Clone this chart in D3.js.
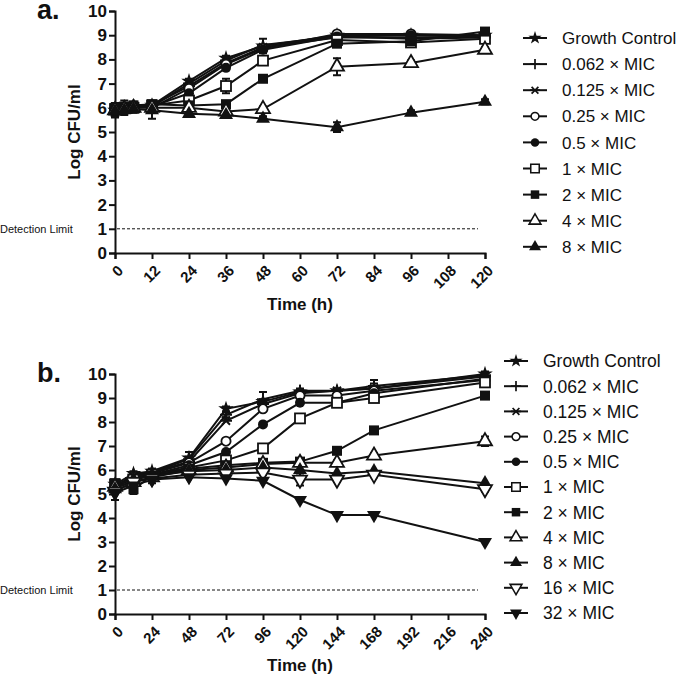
<!DOCTYPE html>
<html><head><meta charset="utf-8">
<script src="https://cdn.jsdelivr.net/npm/d3@7/dist/d3.min.js"></script>
<style>body{margin:0;background:#fff}svg{display:block}text{font-family:"Liberation Sans",Arial,sans-serif;fill:#111}</style>
</head><body>
<svg id="c" width="680" height="682"></svg>
<script>
// ---------- data ----------
const labelsA = ["Growth Control","0.062 × MIC","0.125 × MIC","0.25 × MIC","0.5 × MIC","1 × MIC","2 × MIC","4 × MIC","8 × MIC"];
const labelsB = labelsA.concat(["16 × MIC","32 × MIC"]);
const markersA = ["star","plus","xstar","circleOpen","circle","squareOpen","square","triOpen","tri"];
const markersB = markersA.concat(["triDownOpen","triDown"]);

const timesA = [0,3,6,12,24,36,48,72,96,120];
const xTicksA = [0,12,24,36,48,60,72,84,96,108,120];
const a_gc    = [5.9,6.0,6.05,6.1,7.1,8.05,8.55,9.0,9.0,9.0];
const a_0062  = [5.85,6.0,6.1,6.05,7.0,7.95,8.6,8.95,8.85,8.9];
const a_0125  = [5.95,6.05,6.0,6.1,6.9,7.85,8.5,8.9,8.9,8.95];
const a_025   = [5.9,6.0,6.05,6.0,6.8,7.8,8.45,9.05,9.05,9.0];
const a_05    = [5.9,5.95,6.0,6.05,6.6,7.65,8.4,8.95,9.0,8.95];
const a_1     = [5.95,6.0,6.0,6.1,6.3,6.9,7.95,8.8,8.7,8.85];
const a_2     = [6.0,6.05,6.1,6.15,6.1,6.15,7.2,8.65,8.75,9.15];
const a_4     = [5.9,5.95,6.0,6.0,6.0,5.85,5.95,7.7,7.85,8.4];
const a_8     = [5.85,5.9,5.95,5.9,5.75,5.7,5.55,5.2,5.8,6.25];
const errA_gc = [0.3,0.2,0.2,0.1,0.1,0.1,0.3,0.1,0.1,0.1];
const errA_1  = [0.2,0.3,0.2,0.1,0.1,0.3,0.1,0.1,0.1,0.1];
const errA_4  = [0.2,0.1,0.1,0.1,0.1,0.1,0.1,0.35,0.1,0.1];
const errA_8  = [0.2,0.1,0.1,0.35,0.1,0.1,0.1,0.2,0.1,0.1];

const timesB = [0,12,24,48,72,96,120,144,168,240];
const xTicksB = [0,24,48,72,96,120,144,168,192,216,240];
const b_gc    = [5.4,5.85,5.95,6.5,8.55,8.85,9.25,9.3,9.4,10.0];
const b_0062  = [5.3,5.8,5.9,6.45,8.3,8.95,9.3,9.3,9.5,9.95];
const b_0125  = [5.25,5.75,5.9,6.35,8.05,8.75,9.2,9.3,9.4,9.9];
const b_025   = [5.35,5.7,5.85,6.3,7.2,8.55,9.1,9.1,9.3,9.75];
const b_05    = [5.3,5.65,5.8,6.2,6.75,7.9,8.8,8.8,9.2,9.8];
const b_1     = [5.4,5.6,5.8,6.1,6.4,6.9,8.15,8.8,9.0,9.65];
const b_2     = [5.45,5.2,5.75,6.05,6.2,6.3,6.35,6.8,7.65,9.1];
const b_4     = [5.3,5.5,5.7,6.0,6.1,6.25,6.3,6.3,6.6,7.2];
const b_8     = [5.2,5.6,5.75,5.95,6.0,6.1,6.0,5.85,5.95,5.45];
const b_16    = [5.1,5.5,5.65,5.8,5.85,5.9,5.6,5.6,5.8,5.2];
const b_32    = [5.05,5.35,5.6,5.7,5.65,5.55,4.75,4.12,4.12,3.0];
const errB_gc = [0.1,0.1,0.1,0.25,0.1,0.1,0.1,0.1,0.35,0.1];
const errB_0062 = [0.1,0.1,0.1,0.1,0.1,0.3,0.1,0.1,0.1,0.1];
const errB_2  = [0.1,0.2,0.3,0.1,0.1,0.1,0.1,0.1,0.1,0.1];
const errB_4  = [0.1,0.1,0.1,0.1,0.1,0.1,0.1,0.1,0.1,0.2];
const errB_16 = [0.35,0.1,0.1,0.1,0.1,0.1,0.25,0.1,0.1,0.1];
const yTicks = [0,1,2,3,4,5,6,7,8,9,10];
const detectionLimit = 1;

const seriesA = [a_gc,a_0062,a_0125,a_025,a_05,a_1,a_2,a_4,a_8];
const errsA = [errA_gc,null,null,null,null,errA_1,null,errA_4,errA_8];
const seriesB = [b_gc,b_0062,b_0125,b_025,b_05,b_1,b_2,b_4,b_8,b_16,b_32];
const errsB = [errB_gc,errB_0062,null,null,null,null,errB_2,errB_4,null,errB_16,null];

// ---------- drawing ----------
const svg = d3.select("#c");
const tri = d3.symbol().type(d3.symbolTriangle).size(85)();
const star = d3.symbol().type(d3.symbolStar).size(75)();
function drawMarker(g, type){
  const open = /Open/.test(type);
  const fill = open ? "#fff" : "#111";
  if(type==="star") g.append("path").attr("d",star).attr("fill","#111");
  else if(type==="plus") g.append("path").attr("d","M-6,0H6M0,-6V6").attr("stroke","#111").attr("stroke-width",2).attr("fill","none");
  else if(type==="xstar") g.append("path").attr("d","M-6,0H6M-4,-4L4,4M-4,4L4,-4").attr("stroke","#111").attr("stroke-width",2).attr("fill","none");
  else if(type.startsWith("circle")) g.append("circle").attr("r",open?4.6:5).attr("fill",fill).attr("stroke","#111").attr("stroke-width",open?1.8:0);
  else if(type.startsWith("square")) g.append("rect").attr("x",-5).attr("y",-5).attr("width",10).attr("height",10).attr("fill",fill).attr("stroke","#111").attr("stroke-width",open?1.8:0);
  else if(type.startsWith("triDown")) g.append("path").attr("d",tri).attr("transform","rotate(180)").attr("fill",fill).attr("stroke","#111").attr("stroke-width",open?1.8:0);
  else if(type.startsWith("tri")) g.append("path").attr("d",tri).attr("fill",fill).attr("stroke","#111").attr("stroke-width",open?1.8:0);
}

function panel(o){
  const x = d3.scaleLinear().domain(o.xDomain).range([115,485]);
  const y = d3.scaleLinear().domain([0,10]).range([o.y0,o.y10]);
  const g = svg.append("g");
  // axes
  const ya = g.append("g").attr("transform","translate(115,0)")
    .call(d3.axisLeft(y).tickValues(yTicks).tickSize(6).tickPadding(2).tickFormat(d3.format("d")));
  ya.selectAll("text").style("font-size","17px").style("font-weight","bold");
  const xa = g.append("g").attr("transform",`translate(0,${o.y0})`)
    .call(d3.axisBottom(x).tickValues(o.xTicks).tickSize(6).tickFormat(d3.format("d")));
  xa.selectAll("text").style("font-size","15px").style("font-weight","bold")
    .attr("text-anchor","end").attr("dy","0.35em").attr("dx","0")
    .attr("transform","translate(5,15) rotate(-45)").attr("y",0);
  g.selectAll(".domain").attr("stroke","#111").attr("stroke-width",2);
  g.selectAll(".tick line").attr("stroke","#111").attr("stroke-width",2);
  // detection limit
  g.append("line").attr("x1",x(o.xDomain[0])+2).attr("x2",x(o.xDomain[1])-7)
    .attr("y1",y(detectionLimit)).attr("y2",y(detectionLimit))
    .attr("stroke","#111").attr("stroke-width",1).attr("stroke-dasharray","3,2");
  g.append("text").attr("x",0).attr("y",y(detectionLimit)).attr("dy","0.35em")
    .style("font-size","11px").text("Detection Limit");
  // titles
  g.append("text").attr("x",37).attr("y",o.y10+8).style("font-size","27px").style("font-weight","bold").text(o.letter);
  g.append("text").attr("transform",`translate(80,${(o.y0+o.y10)/2}) rotate(-90)`).attr("text-anchor","middle")
    .style("font-size","17px").style("font-weight","bold").text("Log CFU/ml");
  g.append("text").attr("x",300).attr("y",o.y0+57).attr("text-anchor","middle")
    .style("font-size","17px").style("font-weight","bold").text("Time (h)");
  // lines
  const line = d3.line().x((d,i)=>x(o.times[i])).y(d=>y(d));
  o.series.forEach(s=>g.append("path").attr("d",line(s)).attr("fill","none").attr("stroke","#111").attr("stroke-width",2));
  // error bars
  o.errs.forEach((e,k)=>{ if(!e) return; const s=o.series[k];
    s.forEach((v,i)=>{ const cx=x(o.times[i]);
      g.append("path").attr("d",`M${cx},${y(v-e[i])}V${y(v+e[i])}M${cx-4},${y(v-e[i])}H${cx+4}M${cx-4},${y(v+e[i])}H${cx+4}`)
        .attr("stroke","#111").attr("stroke-width",2).attr("fill","none");
    });
  });
  // markers
  o.series.forEach((s,k)=>s.forEach((v,i)=>{
    drawMarker(g.append("g").attr("transform",`translate(${x(o.times[i])},${y(v)})`), o.markers[k]);
  }));
  // legend
  o.labels.forEach((lab,k)=>{
    const ly = o.legY + k*o.legStep;
    g.append("line").attr("x1",o.legX).attr("x2",o.legX+24).attr("y1",ly).attr("y2",ly).attr("stroke","#111").attr("stroke-width",2);
    drawMarker(g.append("g").attr("transform",`translate(${o.legX+12},${ly}) scale(0.85)`), o.markers[k]);
    g.append("text").attr("x",o.legX+39).attr("y",ly).attr("dy","0.36em").style("font-size",o.legFont+"px").text(lab);
  });
}

panel({xDomain:[0,120], xTicks:xTicksA, times:timesA, series:seriesA, errs:errsA, markers:markersA, labels:labelsA,
  y0:253, y10:11, letter:"a.", legX:523, legY:38, legStep:26.1, legFont:17});
panel({xDomain:[0,240], xTicks:xTicksB, times:timesB, series:seriesB, errs:errsB, markers:markersB, labels:labelsB,
  y0:614, y10:374, letter:"b.", legX:504, legY:361, legStep:25.2, legFont:17.5});
</script>
</body></html>
